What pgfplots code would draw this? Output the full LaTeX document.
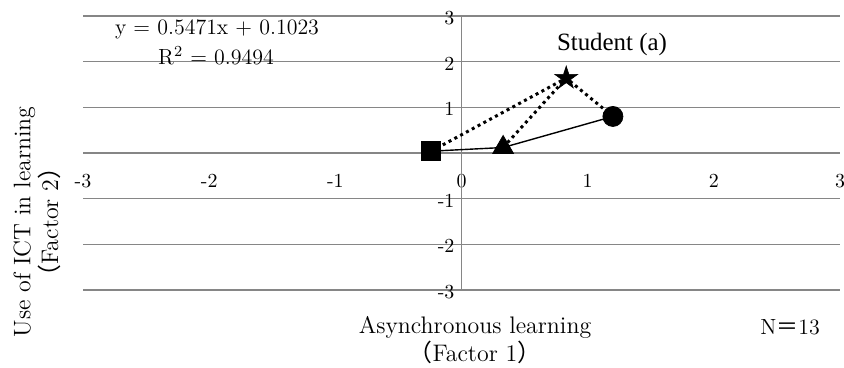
\documentclass[border=0pt]{standalone}
\usepackage{pgfplots}
\pgfplotsset{compat=1.18}
\usepackage{fontspec}
\newfontfamily\cjk{Noto Sans CJK JP}
\newfontfamily\timesfont{Liberation Serif}
\definecolor{gridgray}{RGB}{134,134,134}
\pgfdeclareplotmark{fstar}{%
  \pgfpathmoveto{\pgfpointpolar{90}{\pgfplotmarksize}}%
  \pgfpathlineto{\pgfpointpolar{126}{0.382\pgfplotmarksize}}%
  \pgfpathlineto{\pgfpointpolar{162}{\pgfplotmarksize}}%
  \pgfpathlineto{\pgfpointpolar{198}{0.382\pgfplotmarksize}}%
  \pgfpathlineto{\pgfpointpolar{234}{\pgfplotmarksize}}%
  \pgfpathlineto{\pgfpointpolar{270}{0.382\pgfplotmarksize}}%
  \pgfpathlineto{\pgfpointpolar{306}{\pgfplotmarksize}}%
  \pgfpathlineto{\pgfpointpolar{342}{0.382\pgfplotmarksize}}%
  \pgfpathlineto{\pgfpointpolar{18}{\pgfplotmarksize}}%
  \pgfpathlineto{\pgfpointpolar{54}{0.382\pgfplotmarksize}}%
  \pgfpathclose
  \pgfusepathqfillstroke
}
\begin{document}
\begin{tikzpicture}[x=1bp,y=1bp]
\useasboundingbox (0,0) rectangle (422,184);
\begin{axis}[
  at={(41.5bp,39bp)}, anchor=south west,
  scale only axis, width=378.5bp, height=137bp,
  xmin=-3, xmax=3, ymin=-3, ymax=3,
  axis lines=middle, axis line style={draw=none},
  xtick={-3,-2,-1,0,1,2,3}, ytick={-3,-2,-1,0,1,2,3},
  xticklabels={-3,-2,-1,0,1,2,3}, yticklabels={-3,-2,-1,{},1,2,3},
  hide obscured x ticks=false, hide obscured y ticks=false,
  major tick length=0pt, tick style={draw=none},
  ymajorgrids, grid style={gridgray, line width=0.8bp},
  xticklabel style={font=\fontsize{10}{12}\selectfont, yshift=-7bp},
  yticklabel style={font=\fontsize{10}{12}\selectfont, yshift=-1bp},
  clip=false,
]
\draw[gridgray, line width=0.8bp] (axis cs:0,-3) -- (axis cs:0,3);
% dotted connections
\addplot[black, line width=1.5bp, dash pattern=on 1.5bp off 1.8bp] coordinates {(-0.24,0.04) (0.83,1.64) (1.2,0.8)};
\addplot[black, line width=1.5bp, dash pattern=on 1.5bp off 1.8bp] coordinates {(0.33,0.12) (0.83,1.64)};
% solid series
\addplot[black, line width=0.7bp] coordinates {(-0.24,0.04) (0.33,0.12) (1.2,0.8)};
% markers
\addplot[only marks, mark=square*, mark size=4.75bp, black] coordinates {(-0.24,0.04)};
\addplot[only marks, mark=triangle*, mark size=6bp, black] coordinates {(0.33,0.12)};
\addplot[only marks, mark=*, mark size=5bp, black] coordinates {(1.2,0.8)};
\addplot[only marks, mark=fstar, mark size=6bp, black, mark options={fill=black, line width=0.3bp}] coordinates {(0.83,1.64)};
\end{axis}
\node[font=\fontsize{11}{13}\selectfont] at (108.5,169.5) {y = 0.5471x + 0.1023};
\node[font=\fontsize{11}{13}\selectfont] at (108,156) {R\textsuperscript{2} = 0.9494};
\node[font=\timesfont\fontsize{12.5}{14}\selectfont] at (306,161.5) {Student (a)};
\node[rotate=90, align=center, font=\fontsize{12}{14}\selectfont] at (18.5,73) {Use of ICT in learning\\{\cjk （}Factor 2{\cjk ）}};
\node[align=center, font=\fontsize{12}{12}\selectfont] at (237.5,14) {Asynchronous learning\\{\cjk （}Factor 1{\cjk ）}};
\node[font=\fontsize{11}{13}\selectfont] at (395,20.5) {N{\cjk ＝}13};
\end{tikzpicture}
\end{document}
